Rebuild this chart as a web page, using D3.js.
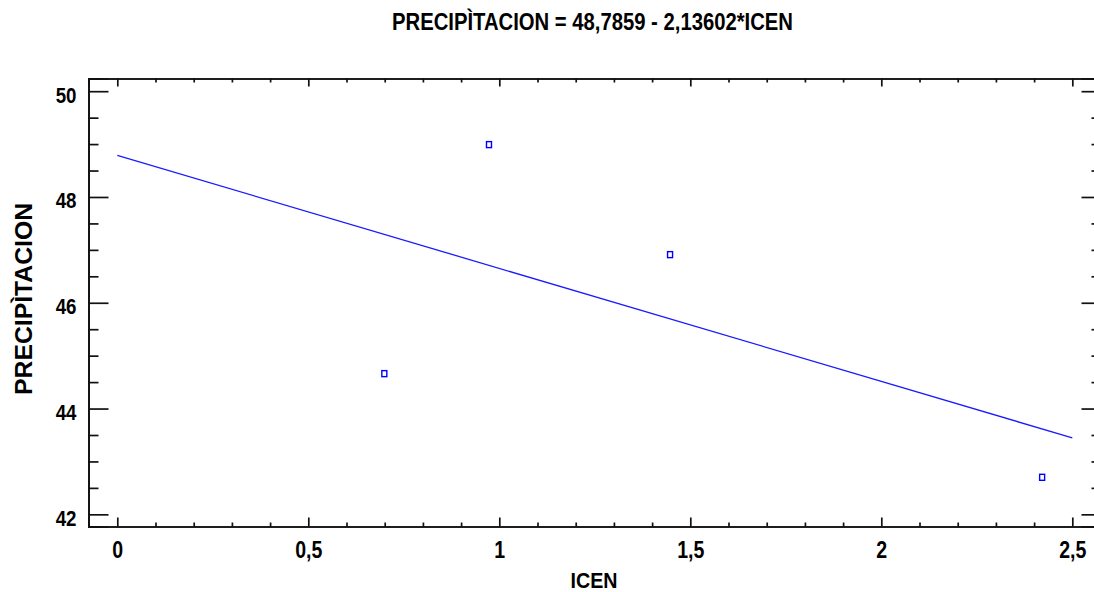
<!DOCTYPE html>
<html>
<head>
<meta charset="utf-8">
<script src="https://cdn.jsdelivr.net/npm/d3@7"></script>
<style>
  html, body { margin: 0; padding: 0; background: #fff; overflow: hidden; }
  svg { display: block; }
  .narrow { font-family: "Liberation Sans Narrow", "Arial Narrow", "Liberation Sans", Arial, sans-serif; font-weight: bold; }
  .wide { font-family: "Liberation Sans", Arial, sans-serif; font-weight: bold; }
</style>
</head>
<body>
<svg id="chart" width="1094" height="592"></svg>
<script>
// Observations: ICEN vs PRECIPÌTACION
const icen = [0.699, 0.973, 1.447, 2.421];
const precipitacion = [44.66, 48.99, 46.91, 42.70];

// Fitted model shown in the title
const intercept = 48.7859;
const slope = -2.13602;
const fitRange = [0, 2.5];

// Axis ticks
const xMajorTicks = [0, 0.5, 1, 1.5, 2, 2.5];
const yMajorTicks = [42, 44, 46, 48, 50];
const xDomain = [-0.0754, 2.5764];
const yDomain = [41.77, 50.24];

const titleText = "PRECIPÌTACION = 48,7859 - 2,13602*ICEN";
const xTitle = "ICEN";
const yTitle = "PRECIPÌTACION";

const plot = { left: 88.5, right: 1101.5, top: 78.5, bottom: 526.5 };

const svg = d3.select("#chart");
const x = d3.scaleLinear().domain(xDomain).range([plot.left, plot.right]);
const y = d3.scaleLinear().domain(yDomain).range([plot.bottom, plot.top]);

const fmt = d => String(d).replace(".", ",");

// minor ticks every 0.1 on x, every 0.5 on y
const xMinor = d3.range(0, 2.55, 0.1).map(v => +v.toFixed(2)).filter(v => !xMajorTicks.includes(v));
const yMinor = d3.range(42, 50.01, 0.5).filter(v => !yMajorTicks.includes(v));

const axisColor = "#111";
const sw = 1.7;

// Bottom axis: labels below, ticks pointing up
const gBottom = svg.append("g").attr("transform", `translate(0,${plot.bottom})`)
  .call(d3.axisBottom(x).tickValues(xMajorTicks).tickSize(-9).tickPadding(15).tickFormat(fmt));
gBottom.append("g").call(d3.axisBottom(x).tickValues(xMinor).tickSize(-4).tickFormat(""));

// Top axis: ticks pointing down
const gTop = svg.append("g").attr("transform", `translate(0,${plot.top})`)
  .call(d3.axisTop(x).tickValues(xMajorTicks).tickSize(-8).tickFormat(""));
gTop.append("g").call(d3.axisTop(x).tickValues(xMinor).tickSize(-4).tickFormat(""));

// Left axis: labels left, ticks pointing right
const gLeft = svg.append("g").attr("transform", `translate(${plot.left},0)`)
  .call(d3.axisLeft(y).tickValues(yMajorTicks).tickSize(-20).tickPadding(12).tickFormat(fmt));
gLeft.append("g").call(d3.axisLeft(y).tickValues(yMinor).tickSize(-10).tickFormat(""));

// Right axis: ticks pointing left
const gRight = svg.append("g").attr("transform", `translate(${plot.right},0)`)
  .call(d3.axisRight(y).tickValues(yMajorTicks).tickSize(-20).tickFormat(""));
gRight.append("g").call(d3.axisRight(y).tickValues(yMinor).tickSize(-10).tickFormat(""));

svg.selectAll(".domain").attr("stroke", axisColor).attr("stroke-width", sw);
svg.selectAll(".tick line").attr("stroke", axisColor).attr("stroke-width", sw);

// Condensed bold tick labels
function condense(sel, k) {
  sel.each(function () {
    const w = this.getComputedTextLength();
    d3.select(this).attr("textLength", w * k).attr("lengthAdjust", "spacingAndGlyphs");
  });
}
gBottom.selectAll(".tick text")
  .attr("class", "narrow").attr("font-size", 23).attr("fill", "#000")
  .attr("dy", "0.71em")
  .call(condense, 0.85);
gLeft.selectAll(".tick text")
  .attr("class", "narrow").attr("font-size", 22).attr("fill", "#000")
  .attr("dy", "0.5em")
  .call(condense, 0.85);

// Fitted regression line
const fitLine = fitRange.map(v => [v, intercept + slope * v]);
svg.append("path")
  .datum(fitLine)
  .attr("fill", "none")
  .attr("stroke", "#1a1aff")
  .attr("stroke-width", 1.3)
  .attr("d", d3.line().x(d => x(d[0])).y(d => y(d[1])));

// Observed points: hollow squares
svg.append("g").selectAll("rect")
  .data(icen.map((v, i) => [v, precipitacion[i]]))
  .join("rect")
  .attr("x", d => x(d[0]) - 2.5)
  .attr("y", d => y(d[1]) - 3)
  .attr("width", 5)
  .attr("height", 6)
  .attr("fill", "none")
  .attr("stroke", "#0000ff")
  .attr("stroke-width", 1.4);

// Title
svg.append("text")
  .attr("class", "narrow")
  .attr("x", 592.5).attr("y", 30)
  .attr("text-anchor", "middle")
  .attr("font-size", 23)
  .attr("textLength", 401).attr("lengthAdjust", "spacingAndGlyphs")
  .text(titleText);

// X axis title
svg.append("text")
  .attr("class", "narrow")
  .attr("x", 594).attr("y", 588)
  .attr("text-anchor", "middle")
  .attr("font-size", 22)
  .attr("textLength", 47).attr("lengthAdjust", "spacingAndGlyphs")
  .text(xTitle);

// Y axis title
svg.append("text")
  .attr("class", "wide")
  .attr("transform", `translate(32,299) rotate(-90)`)
  .attr("text-anchor", "middle")
  .attr("font-size", 23)
  .attr("textLength", 192).attr("lengthAdjust", "spacingAndGlyphs")
  .text(yTitle);
</script>
</body>
</html>
